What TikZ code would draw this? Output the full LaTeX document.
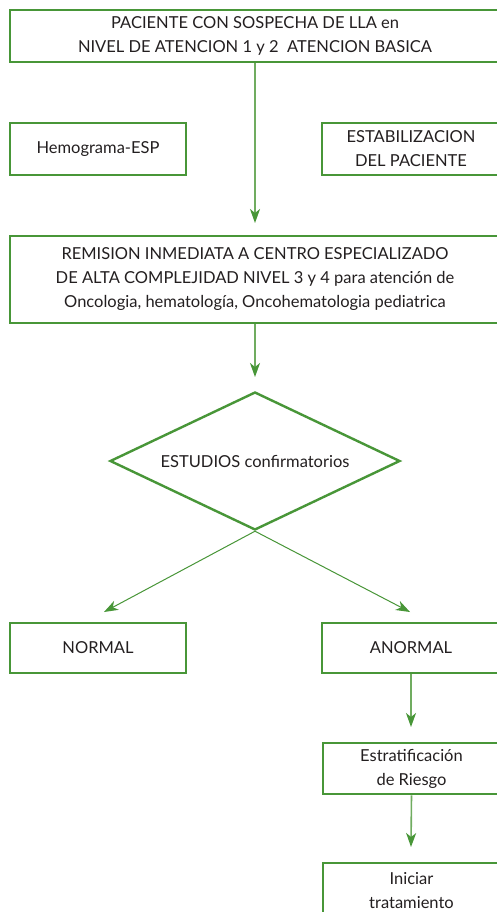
\documentclass[tikz,border=0pt]{standalone}
\usepackage{fontspec}
\setmainfont{Lato}
\usetikzlibrary{shapes.geometric,arrows.meta}
\definecolor{boxgreen}{RGB}{72,150,56}
\definecolor{linegreen}{RGB}{112,172,96}
\definecolor{txt}{RGB}{35,31,32}
\begin{document}
\begin{tikzpicture}[x=1pt,y=-1pt,
  box/.style={rectangle,draw=boxgreen,line width=2.6pt,fill=white,text=txt,align=center,inner sep=0pt,font=\fontsize{16.5}{24}\selectfont},
  decision/.style={diamond,draw=boxgreen,line width=2.4pt,fill=white,text=txt,inner sep=0pt,aspect=2.1,minimum width=290pt,minimum height=138pt,font=\fontsize{16.5}{24}\selectfont},
  conn/.style={draw=linegreen,line width=1.6pt,-{Stealth[length=14pt,width=10pt,inset=4pt,color=boxgreen]}},
  diag/.style={draw=boxgreen,line width=1pt,-{Stealth[length=14pt,width=10pt,inset=4pt,color=boxgreen]}}]
\useasboundingbox (0,0) rectangle (496,912);
\fill[white] (0,0) rectangle (496,912);

\node[box,minimum width=490pt,minimum height=52pt] (paciente) at (255,36)
  {PACIENTE CON SOSPECHA DE LLA en\\NIVEL DE ATENCION 1 y 2\ \ ATENCION BASICA};
\node[box,minimum width=176pt,minimum height=52pt] (hemo) at (98,149) {Hemograma-ESP};
\node[box,minimum width=178pt,minimum height=52pt] (estab) at (411,149) {ESTABILIZACION\\DEL PACIENTE};
\node[box,minimum width=490pt,minimum height=87pt] (remision) at (255,279.5)
  {REMISION INMEDIATA A CENTRO ESPECIALIZADO\\DE ALTA COMPLEJIDAD NIVEL 3 y 4 para atención de\\Oncologia, hematología, Oncohematologia pediatrica};
\node[decision] (estudios) at (255,461) {ESTUDIOS confirmatorios};
\node[box,minimum width=176pt,minimum height=50pt] (normal) at (98,648) {NORMAL};
\node[box,minimum width=178pt,minimum height=50pt] (anormal) at (411,648) {ANORMAL};
\node[box,minimum width=177pt,minimum height=51pt] (estrat) at (411.5,768.5) {Estratificación\\de Riesgo};
\node[box,minimum width=177pt,minimum height=56pt] (iniciar) at (411.5,891) {Iniciar\\tratamiento};

\coordinate (t1) at (255,223);
\coordinate (t2) at (255,377);
\coordinate (tl) at (104,612);
\coordinate (tr) at (410,612);
\coordinate (t3) at (411,727);
\coordinate (t4) at (411,847);

\draw[conn] (paciente.south) -- (t1);
\draw[conn] (remision.south) -- (t2);
\draw[diag] (estudios.south) -- (tl);
\draw[diag] (estudios.south) -- (tr);
\draw[conn] (anormal.south) -- (t3);
\draw[conn] (estrat.south) -- (t4);
\end{tikzpicture}
\end{document}
